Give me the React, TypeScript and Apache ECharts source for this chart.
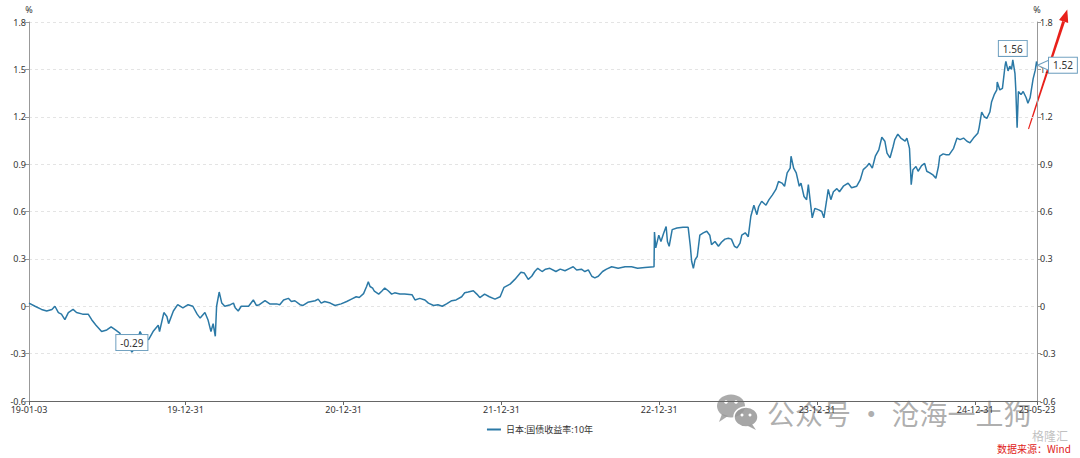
import React, { useEffect, useRef } from 'react';
import * as echarts from 'echarts';

const seriesName = '日本:国债收益率:10年';

const dates: string[] = [
  '2019-01-03','2019-01-17','2019-02-01','2019-02-13','2019-02-25','2019-03-04','2019-03-12','2019-03-19','2019-03-27','2019-04-04',
  '2019-04-15','2019-04-23','2019-05-07','2019-05-20','2019-05-28','2019-06-07','2019-06-20','2019-07-02','2019-07-12','2019-07-22',
  '2019-08-01','2019-08-09','2019-08-20','2019-08-29','2019-09-04','2019-09-17','2019-09-27','2019-10-07','2019-10-17','2019-10-29',
  '2019-11-01','2019-11-11','2019-11-18','2019-11-22','2019-12-03','2019-12-13','2019-12-25',
  '2020-01-06','2020-01-17','2020-01-27','2020-02-03','2020-02-14','2020-02-21','2020-02-28','2020-03-04','2020-03-09','2020-03-12',
  '2020-03-18','2020-03-24','2020-03-31','2020-04-13','2020-04-20','2020-04-24','2020-05-01','2020-05-08','2020-05-25','2020-06-05',
  '2020-06-12','2020-06-19','2020-07-02','2020-07-13','2020-07-29','2020-08-05','2020-08-14','2020-08-25','2020-09-01','2020-09-09',
  '2020-09-21','2020-09-28','2020-10-09','2020-10-26','2020-11-02','2020-11-09','2020-11-17','2020-11-30','2020-12-11','2020-12-25',
  '2021-01-07','2021-01-18','2021-01-29','2021-02-05','2021-02-15','2021-02-22','2021-02-26','2021-03-02','2021-03-08','2021-03-12',
  '2021-03-22','2021-03-29','2021-04-05','2021-04-13','2021-04-21','2021-04-28','2021-05-10','2021-05-21','2021-06-07','2021-06-14',
  '2021-06-25','2021-07-07','2021-07-15','2021-07-27','2021-08-06','2021-08-16','2021-08-26','2021-09-07','2021-09-17','2021-09-30',
  '2021-10-07','2021-10-15','2021-10-27','2021-11-04','2021-11-11','2021-11-22','2021-12-03','2021-12-16','2021-12-28',
  '2022-01-06','2022-01-20','2022-01-31','2022-02-14','2022-02-22','2022-03-03','2022-03-11','2022-03-18','2022-03-25','2022-04-04',
  '2022-04-12','2022-04-22','2022-05-06','2022-05-16','2022-05-27','2022-06-07','2022-06-15','2022-06-23','2022-07-04','2022-07-12',
  '2022-07-20','2022-07-28','2022-08-04','2022-08-12','2022-08-22','2022-08-31','2022-09-12','2022-09-27','2022-10-13','2022-10-28',
  '2022-11-11','2022-11-28','2022-12-19','2022-12-20','2022-12-23','2022-12-30',
  '2023-01-04','2023-01-10','2023-01-16','2023-01-19','2023-01-23','2023-01-30','2023-02-10','2023-02-24','2023-03-08','2023-03-13',
  '2023-03-16','2023-03-20','2023-03-24','2023-03-29','2023-04-04','2023-04-12','2023-04-20','2023-04-27','2023-05-01','2023-05-09',
  '2023-05-17','2023-05-24','2023-06-01','2023-06-09','2023-06-16','2023-06-23','2023-06-29','2023-07-06','2023-07-10','2023-07-18',
  '2023-07-25','2023-07-31','2023-08-07','2023-08-14','2023-08-18','2023-08-25','2023-09-04','2023-09-11','2023-09-19','2023-09-27',
  '2023-10-03','2023-10-11','2023-10-17','2023-10-23','2023-10-30','2023-11-01','2023-11-07','2023-11-13','2023-11-20','2023-11-24',
  '2023-12-01','2023-12-07','2023-12-11','2023-12-15','2023-12-20','2023-12-26',
  '2024-01-04','2024-01-11','2024-01-16','2024-01-22','2024-01-26','2024-02-01','2024-02-07','2024-02-15','2024-02-21','2024-03-01',
  '2024-03-12','2024-03-20','2024-04-01','2024-04-09','2024-04-16','2024-04-24','2024-04-30','2024-05-07','2024-05-14','2024-05-22',
  '2024-05-29','2024-06-05','2024-06-10','2024-06-17','2024-06-24','2024-06-28','2024-07-05','2024-07-12','2024-07-22','2024-07-26',
  '2024-08-01','2024-08-05','2024-08-09','2024-08-16','2024-08-21','2024-08-29','2024-09-05','2024-09-10','2024-09-17','2024-09-25',
  '2024-10-01','2024-10-07','2024-10-10','2024-10-18','2024-10-25','2024-11-01','2024-11-11','2024-11-19','2024-11-26','2024-12-04',
  '2024-12-12','2024-12-19','2024-12-27',
  '2025-01-06','2025-01-09','2025-01-15','2025-01-21','2025-01-27','2025-02-03','2025-02-07','2025-02-13','2025-02-19','2025-02-20',
  '2025-02-26','2025-03-04','2025-03-10','2025-03-12','2025-03-17','2025-03-21','2025-03-25','2025-03-28','2025-04-02','2025-04-04',
  '2025-04-07','2025-04-10','2025-04-16','2025-04-21','2025-04-28','2025-05-02','2025-05-07','2025-05-14','2025-05-19','2025-05-22',
  '2025-05-23',
];

const yields: number[] = [
  0.02, 0.00, -0.02, -0.03, -0.02, 0.00, -0.04, -0.05, -0.085, -0.04,
  -0.02, -0.04, -0.05, -0.05, -0.085, -0.12, -0.16, -0.15, -0.13, -0.15,
  -0.17, -0.22, -0.24, -0.29, -0.27, -0.16, -0.22, -0.21, -0.16, -0.12,
  -0.16, -0.04, -0.065, -0.11, -0.03, 0.01, -0.01,
  0.01, 0.00, -0.05, -0.075, -0.04, -0.085, -0.16, -0.11, -0.19, 0.00,
  0.09, 0.02, 0.00, 0.01, 0.02, -0.01, -0.03, 0.00, 0.00, 0.04,
  0.005, 0.01, 0.035, 0.015, 0.015, 0.01, 0.04, 0.05, 0.03, 0.035,
  0.01, 0.005, 0.025, 0.035, 0.045, 0.02, 0.03, 0.02, 0.005, 0.015,
  0.03, 0.045, 0.06, 0.055, 0.08, 0.125, 0.155, 0.125, 0.115, 0.095,
  0.077, 0.095, 0.115, 0.098, 0.077, 0.085, 0.077, 0.077, 0.073, 0.04,
  0.05, 0.04, 0.02, 0.005, 0.01, 0.00, 0.015, 0.035, 0.04, 0.06,
  0.085, 0.09, 0.098, 0.077, 0.055, 0.077, 0.06, 0.045, 0.06,
  0.12, 0.14, 0.17, 0.215, 0.21, 0.17, 0.19, 0.22, 0.24, 0.22,
  0.235, 0.24, 0.22, 0.235, 0.225, 0.24, 0.25, 0.23, 0.235, 0.22,
  0.23, 0.19, 0.18, 0.19, 0.22, 0.235, 0.25, 0.24, 0.25, 0.25,
  0.24, 0.245, 0.25, 0.47, 0.37, 0.45,
  0.41, 0.46, 0.505, 0.41, 0.38, 0.485, 0.495, 0.50, 0.50, 0.38,
  0.285, 0.24, 0.295, 0.315, 0.45, 0.465, 0.475, 0.45, 0.39, 0.41,
  0.38, 0.405, 0.425, 0.43, 0.425, 0.38, 0.37, 0.40, 0.45, 0.465,
  0.44, 0.57, 0.64, 0.58, 0.63, 0.665, 0.64, 0.675, 0.705, 0.74,
  0.79, 0.78, 0.76, 0.845, 0.875, 0.95, 0.875, 0.845, 0.76, 0.78,
  0.695, 0.675, 0.77, 0.675, 0.56, 0.62,
  0.61, 0.60, 0.56, 0.665, 0.74, 0.675, 0.725, 0.745, 0.725, 0.76,
  0.78, 0.75, 0.76, 0.80, 0.865, 0.885, 0.905, 0.875, 0.95, 0.99,
  1.07, 1.045, 0.97, 0.94, 1.01, 1.055, 1.09, 1.065, 1.045, 1.065,
  1.00, 0.77, 0.865, 0.885, 0.855, 0.89, 0.905, 0.855, 0.845, 0.83,
  0.81, 0.885, 0.95, 0.965, 0.96, 0.96, 1.00, 1.065, 1.055, 1.065,
  1.045, 1.035, 1.065,
  1.095, 1.13, 1.23, 1.20, 1.19, 1.23, 1.295, 1.34, 1.37, 1.42,
  1.37, 1.38, 1.52, 1.55, 1.49, 1.52, 1.50, 1.56, 1.475, 1.37,
  1.13, 1.36, 1.34, 1.36, 1.32, 1.285, 1.32, 1.44, 1.495, 1.55,
  1.52,
];

const xLabelDates: string[] = [
  '2019-01-03', '2019-12-31', '2020-12-31', '2021-12-31',
  '2022-12-31', '2023-12-31', '2024-12-31', '2025-05-23',
];

const yMin = -0.6;
const yMax = 1.8;
const yStep = 0.3;

const LINE = '#2b79a6';
const BOX_BORDER = '#6e9fbf';

function toTs(s: string): number {
  const [y, m, d] = s.split('-').map(Number);
  return new Date(y, m - 1, d).getTime();
}
function fmtDate(v: number): string {
  const d = new Date(v);
  const p = (n: number) => String(n).padStart(2, '0');
  return `${p(d.getFullYear() % 100)}-${p(d.getMonth() + 1)}-${p(d.getDate())}`;
}

export default function App() {
  const ref = useRef<HTMLDivElement>(null);
  useEffect(() => {
    document.body.style.margin = '0';
    if (!ref.current) return;
    const chart = echarts.init(ref.current, undefined, { renderer: 'svg' });
    const seriesData = dates.map((d, i) => [toTs(d), yields[i]]);
    const tickTs = xLabelDates.map(toTs);
    const last = seriesData[seriesData.length - 1];
    const font = '"Noto Sans", "Noto Sans CJK SC", sans-serif';
    const boxLabel = {
      show: true,
      color: '#333',
      fontSize: 10,
      fontFamily: font,
      backgroundColor: '#fff',
      borderColor: BOX_BORDER,
      borderWidth: 1,
      padding: [3, 4, 2, 4],
    };
    const yAxisCommon = {
      type: 'value',
      min: yMin,
      max: yMax,
      interval: yStep,
      name: '%',
      nameGap: 8,
      nameTextStyle: { color: '#333', fontSize: 9, fontFamily: font },
      axisLine: { show: true, lineStyle: { color: '#999' } },
      axisTick: { show: true, length: 4, lineStyle: { color: '#999' } },
      axisLabel: { color: '#333', fontSize: 9, margin: 3, fontFamily: font },
    };
    chart.setOption({
      animation: false,
      backgroundColor: '#fff',
      grid: { left: 29, right: 43, top: 22, bottom: 57, containLabel: false, outerBoundsMode: 'none' },
      legend: {
        bottom: 19,
        left: 'center',
        icon: 'path://M0,0 L14,0 L14,2 L0,2 Z',
        itemWidth: 14,
        itemHeight: 2,
        itemGap: 10,
        textStyle: { color: '#333', fontSize: 9, fontFamily: font },
        data: [seriesName],
      },
      xAxis: {
        type: 'value',
        min: tickTs[0],
        max: tickTs[tickTs.length - 1],
        scale: true,
        axisLine: { show: true, onZero: false, lineStyle: { color: '#666' } },
        axisTick: { show: true, length: 4, customValues: tickTs, lineStyle: { color: '#666' } },
        axisLabel: {
          customValues: tickTs,
          formatter: (v: number) => fmtDate(v),
          color: '#333',
          fontSize: 9,
          margin: 4,
          fontFamily: font,
        },
        splitLine: { show: false },
      },
      yAxis: [
        {
          ...yAxisCommon,
          position: 'left',
          splitLine: { show: true, lineStyle: { color: '#e4e4e4', type: [3, 3] } },
        },
        {
          ...yAxisCommon,
          position: 'right',
          splitLine: { show: false },
        },
      ],
      series: [
        {
          name: seriesName,
          type: 'line',
          yAxisIndex: 0,
          data: seriesData,
          symbol: 'none',
          lineStyle: { color: LINE, width: 1.5 },
          itemStyle: { color: LINE },
          markPoint: {
            symbol: 'circle',
            symbolSize: 0,
            itemStyle: { color: 'transparent' },
            label: { ...boxLabel, position: 'top', distance: 4 },
            data: [
              { type: 'max', name: 'max' },
              { type: 'min', name: 'min', label: { ...boxLabel, position: 'top', distance: 2 } },
              {
                name: 'last',
                coord: last,
                value: last[1],
                symbol: 'path://M0,5 L11,0 L11,10 Z',
                symbolSize: [11, 10],
                symbolOffset: [6, -1],
                itemStyle: { color: '#fff', borderColor: BOX_BORDER, borderWidth: 1 },
                label: { ...boxLabel, position: 'right', distance: 0 },
              },
            ],
          },
        },
      ],
      graphic: [
        {
          type: 'group',
          z: 100,
          children: [
            { type: 'ellipse', shape: { cx: 731, cy: 406, rx: 14, ry: 11.5 }, style: { fill: 'rgba(150,150,150,0.8)' } },
            { type: 'polygon', shape: { points: [[722, 414], [719, 422], [728, 416]] }, style: { fill: 'rgba(150,150,150,0.8)' } },
            { type: 'ellipse', shape: { cx: 746, cy: 417, rx: 12, ry: 10 }, style: { fill: 'rgba(150,150,150,0.85)', stroke: '#fff', lineWidth: 1.5 } },
            { type: 'polygon', shape: { points: [[752, 424], [756, 430], [748, 426]] }, style: { fill: 'rgba(150,150,150,0.85)' } },
            { type: 'circle', shape: { cx: 726, cy: 402, r: 1.8 }, style: { fill: '#fff' } },
            { type: 'circle', shape: { cx: 736, cy: 402, r: 1.8 }, style: { fill: '#fff' } },
            { type: 'circle', shape: { cx: 742, cy: 415, r: 1.5 }, style: { fill: '#fff' } },
            { type: 'circle', shape: { cx: 750, cy: 415, r: 1.5 }, style: { fill: '#fff' } },
            {
              type: 'text',
              x: 767,
              y: 413,
              style: {
                text: '公众号 · 沧海一土狗',
                fill: 'rgba(140,140,140,0.7)',
                fontSize: 28,
                fontFamily: '"Noto Sans CJK SC", sans-serif',
                verticalAlign: 'middle',
              },
            },
            {
              type: 'text',
              x: 1032,
              y: 435,
              style: {
                text: '格隆汇',
                fill: 'rgba(150,150,150,0.6)',
                fontSize: 12,
                fontFamily: '"Noto Sans CJK SC", sans-serif',
                verticalAlign: 'middle',
              },
            },
            {
              type: 'text',
              x: 997,
              y: 448,
              style: {
                text: '数据来源：Wind',
                fill: '#e0201a',
                fontSize: 10,
                fontFamily: '"Noto Sans CJK SC", sans-serif',
                verticalAlign: 'middle',
              },
            },
            {
              type: 'polygon',
              shape: { points: [[1028.0, 128.8], [1029.0, 129.2], [1065.0, 21.9], [1062.2, 20.9]] },
              style: { fill: '#e8201a' },
            },
            {
              type: 'polygon',
              shape: { points: [[1067.3, 9.5], [1068.2, 23], [1059.0, 20]] },
              style: { fill: '#e8201a' },
            },
          ],
        },
      ],
    });
    return () => chart.dispose();
  }, []);
  return <div ref={ref} style={{ width: 1080, height: 458 }} />;
}
